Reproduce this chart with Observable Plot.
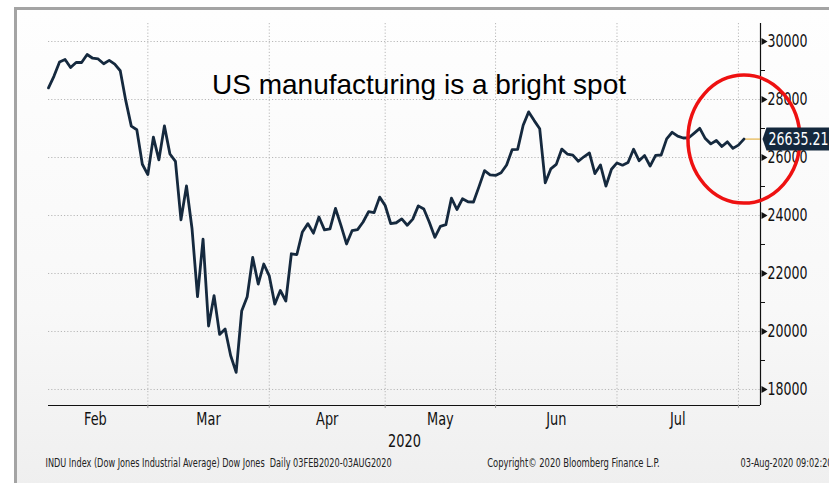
<!DOCTYPE html>
<html>
<head>
<meta charset="utf-8">
<script src="https://cdn.jsdelivr.net/npm/d3@7"></script>
<script src="https://cdn.jsdelivr.net/npm/@observablehq/plot@0.6"></script>
<style>
  html, body { margin: 0; padding: 0; background: #fff; }
  body { width: 829px; height: 483px; overflow: hidden; position: relative; }
  #frame { position: absolute; left: 14px; top: 7px; width: 900px; height: 600px;
           border-left: 3px solid #a4a4a4; border-top: 3px solid #a4a4a4;
           background: linear-gradient(#fefefe 0px, #f8f8f8 300px, #efefef 476px); }
  #chart { position: absolute; left: 0; top: 0; }
</style>
</head>
<body>
<div id="frame"></div>
<div id="chart"></div>
<script>
// ---- data ----
const months = ["Feb", "Mar", "Apr", "May", "Jun", "Jul", "Aug"];
const monthTradingDays = [19, 22, 21, 20, 22, 22, 1];
const labelledMonths = ["Feb", "Mar", "Apr", "May", "Jun", "Jul"];
const closes = [
  // Feb
  28399.81, 28807.63, 29290.85, 29379.77, 29102.51, 29276.82, 29276.34, 29551.42, 29423.31, 29398.08,
  29232.19, 29348.03, 29219.98, 28992.41, 27960.80, 27081.36, 26957.59, 25766.64, 25409.36,
  // Mar
  26703.32, 25917.41, 27090.86, 26121.28, 25864.78, 23851.02, 25018.16, 23553.22, 21200.62, 23185.62,
  20188.52, 21237.38, 19898.92, 20087.19, 19173.98, 18591.93, 20704.91, 21200.55, 22552.17, 21636.78,
  22327.48, 21917.16,
  // Apr
  20943.51, 21413.44, 21052.53, 22679.99, 22653.86, 23433.57, 23719.37, 23390.77, 23949.76, 23504.35,
  23537.68, 24242.49, 23650.44, 23018.88, 23475.82, 23515.26, 23775.27, 24133.78, 24101.55, 24633.86,
  24345.72,
  // May
  23723.69, 23749.76, 23883.09, 23664.64, 23875.89, 24331.32, 24221.99, 23764.78, 23247.97, 23625.34,
  23685.42, 24597.37, 24206.86, 24575.90, 24474.12, 24465.16, 24995.11, 25548.27, 25400.64, 25383.11,
  // Jun
  25475.02, 25742.65, 26269.89, 26281.82, 27110.98, 27572.44, 27272.30, 26989.99, 25128.17, 25605.54,
  25763.16, 26289.98, 26119.61, 26080.10, 25871.46, 26024.96, 26156.10, 25445.94, 25745.60, 25015.55,
  25595.80, 25812.88,
  // Jul
  25734.97, 25827.36, 26287.03, 25890.18, 26067.28, 25706.09, 26075.30, 26085.80, 26642.59, 26870.10,
  26734.71, 26671.95, 26680.87, 26840.40, 27005.84, 26652.33, 26469.89, 26584.77, 26379.28, 26539.57,
  26313.65, 26428.32,
  // Aug
  26635.21
];
const yTicks = [18000, 20000, 22000, 24000, 26000, 28000, 30000];
const yMinorTicks = [19000, 21000, 23000, 25000, 27000, 29000];
const yDomain = [17448, 30621];
const xDomain = [0, 129];
const title = "US manufacturing is a bright spot";
const yearLabel = "2020";
const footerLeft = "INDU Index (Dow Jones Industrial Average) Dow Jones  Daily 03FEB2020-03AUG2020";
const footerMid = "Copyright\u00A9 2020 Bloomberg Finance L.P.";
const footerRight = "03-Aug-2020 09:02:20";

// ---- derived tables ----
const series = closes.map((v, i) => ({i, v}));
const boundaries = [];
const monthLabels = [];
{
  let cum = 0, prev = -1;
  monthTradingDays.forEach((n, k) => {
    cum += n;
    const b = cum - 1;
    if (labelledMonths.includes(months[k])) {
      boundaries.push(b);
      monthLabels.push({m: months[k], c: (prev + b) / 2});
    }
    prev = b;
  });
}
const last = series[series.length - 1];

const narrow = "'Liberation Sans Narrow', 'DejaVu Sans Condensed', 'Arial Narrow', sans-serif";

// custom symbols
const ellipseSym = {draw(ctx, size) {
  const r = Math.sqrt(size / Math.PI), rx = r * 0.875, ry = r, k = 0.5523;
  ctx.moveTo(rx, 0);
  ctx.bezierCurveTo(rx, ry * k, rx * k, ry, 0, ry);
  ctx.bezierCurveTo(-rx * k, ry, -rx, ry * k, -rx, 0);
  ctx.bezierCurveTo(-rx, -ry * k, -rx * k, -ry, 0, -ry);
  ctx.bezierCurveTo(rx * k, -ry, rx, -ry * k, rx, 0);
  ctx.closePath();
}};
const tagSym = {draw(ctx) {
  ctx.moveTo(2, 0);
  ctx.lineTo(6, -11.5);
  ctx.lineTo(90, -11.5);
  ctx.lineTo(90, 11.5);
  ctx.lineTo(6, 11.5);
  ctx.closePath();
}};

const plot = Plot.plot({
  width: 829,
  height: 483,
  marginLeft: 48,
  marginRight: 69,
  marginTop: 23,
  marginBottom: 78,
  style: {background: "transparent", overflow: "visible", fontFamily: narrow},
  x: {domain: xDomain, axis: null},
  y: {domain: yDomain, axis: null},
  marks: [
    Plot.gridY(yTicks, {stroke: "#b8b8b8", strokeOpacity: 1, strokeDasharray: "1.2,2"}),
    Plot.gridX(boundaries, {stroke: "#b8b8b8", strokeOpacity: 1, strokeDasharray: "1.2,2"}),
    Plot.ruleY([yDomain[0]], {stroke: "#111", strokeWidth: 1.2}),
    Plot.ruleX([xDomain[1]], {stroke: "#111", strokeWidth: 1.2}),
    Plot.axisX(boundaries, {tickSize: 3, tickFormat: () => "", stroke: "#999", label: null}),
    Plot.axisY(yMinorTicks, {anchor: "right", tickSize: 4, tickFormat: () => "", stroke: "#111", label: null}),
    Plot.dot(yTicks, {x: () => xDomain[1], y: d => d, symbol: "triangle", rotate: 90, r: 2.6, fill: "#111", dx: 3}),
    Plot.axisY(yTicks, {anchor: "right", tickSize: 0, tickPadding: 7, tickFormat: d => String(d), fontSize: 18, fill: "#111", fontFamily: narrow, label: null}),
    Plot.text(monthLabels, {x: "c", y: () => yDomain[0], text: "m", dy: 14, fontSize: 18.5, fill: "#111", fontFamily: narrow}),
    Plot.text([yearLabel], {frameAnchor: "bottom", dy: 41, fontSize: 18.5, fill: "#111", fontFamily: narrow}),
    Plot.text([footerLeft], {frameAnchor: "bottom-left", textAnchor: "start", dy: 61, dx: -3, fontSize: 11.7, fill: "#222", fontFamily: narrow}),
    Plot.text([footerMid], {frameAnchor: "bottom", dx: 169, dy: 61, fontSize: 12, fill: "#222", fontFamily: narrow}),
    Plot.text([footerRight], {frameAnchor: "bottom-right", textAnchor: "start", dx: -20, dy: 61, fontSize: 11.7, fill: "#222", fontFamily: narrow}),
    Plot.text([title], {frameAnchor: "top", lineAnchor: "bottom", dx: 14.5, dy: 70, fontSize: 28, fill: "#000", fontFamily: "'Liberation Sans', Arial, sans-serif"}),
    Plot.ruleY([last], {y: "v", x1: "i", x2: () => xDomain[1], stroke: "#e0a526", strokeWidth: 1}),
    Plot.line(series, {x: "i", y: "v", stroke: "#15293e", strokeWidth: 2.8, strokeLinejoin: "round"}),
    Plot.dot([last], {x: "i", y: "v", r: 64, symbol: ellipseSym, fill: "none", stroke: "#ee1111", strokeWidth: 3.5}),
    Plot.dot([last], {x: () => xDomain[1], y: "v", r: 5, symbol: tagSym, fill: "#14283d", stroke: "none"}),
    Plot.text([last], {x: () => xDomain[1], y: "v", text: d => d.v.toFixed(2), textAnchor: "start", dx: 8, fontSize: 18, fill: "#fff", fontFamily: narrow})
  ]
});
document.getElementById("chart").appendChild(plot);

// Emulate Bloomberg's narrow typeface: compress narrow texts horizontally so
// that a five-digit tick label is as wide as in the reference.
{
  const texts = Array.from(plot.querySelectorAll("text")).filter(t => t.textContent !== title);
  const ref = texts.find(t => t.textContent === "30000");
  const f = ref ? Math.min(1, 40 / ref.getComputedTextLength()) : 1;
  texts.forEach(t => {
    const w = t.getComputedTextLength();
    if (w > 0) {
      t.setAttribute("textLength", (w * f).toFixed(2));
      t.setAttribute("lengthAdjust", "spacingAndGlyphs");
    }
  });
}
</script>
</body>
</html>
